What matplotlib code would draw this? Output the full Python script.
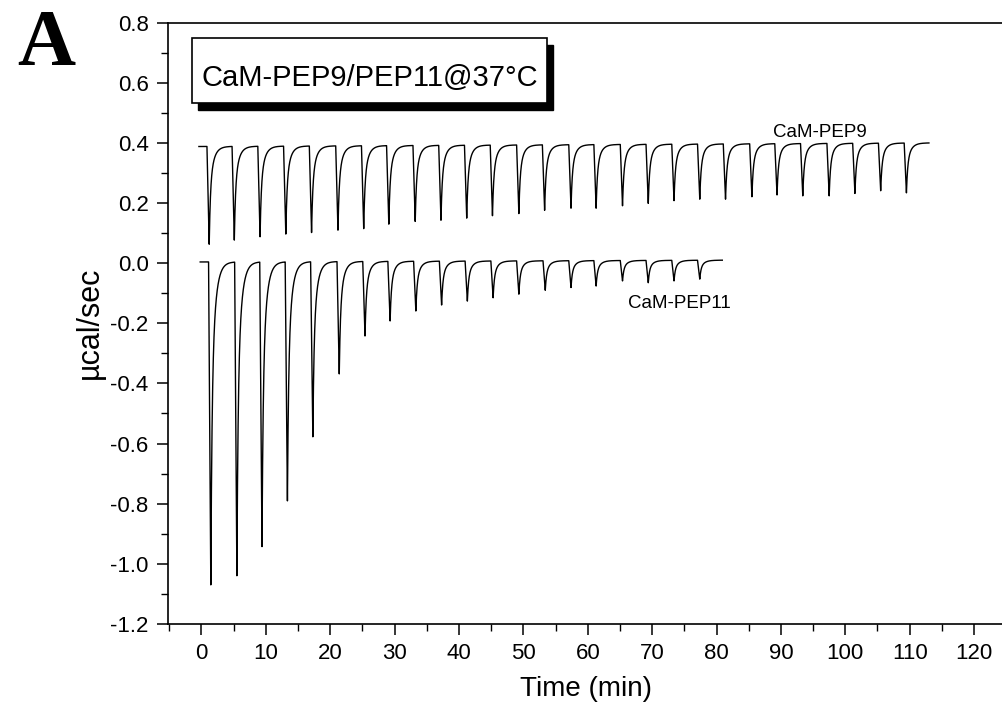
#- ITC raw heat traces, CaM-PEP9 and CaM-PEP11 at 37 C
import matplotlib
matplotlib.use('Agg')
import matplotlib.pyplot as plt
import numpy as np
from matplotlib.patches import Rectangle
from matplotlib.ticker import MultipleLocator

plt.rcParams['font.family'] = ['Liberation Sans', 'DejaVu Sans']

#- injection tip times (min) and tip values (ucal/sec)
pep9_t = [1.2, 5.1, 9.1, 13.1, 17.1, 21.2, 25.2, 29.1, 33.2, 37.2, 41.2, 45.2, 49.3, 53.3,
          57.4, 61.3, 65.4, 69.4, 73.4, 77.4, 81.4, 85.5, 89.4, 93.4, 97.5, 101.5, 105.5, 109.5]
pep9_min = [0.063, 0.077, 0.088, 0.097, 0.102, 0.110, 0.115, 0.130, 0.139, 0.143, 0.150, 0.158,
            0.165, 0.176, 0.183, 0.183, 0.191, 0.199, 0.208, 0.213, 0.213, 0.221, 0.227, 0.224,
            0.224, 0.232, 0.241, 0.234]
pep9_base = (0.388, 0.400)    # baseline at start / end
pep9_span = (-0.4, 113.0)

pep11_t = [1.45, 5.5, 9.4, 13.35, 17.3, 21.4, 25.4, 29.3, 33.3, 37.3, 41.3, 45.3, 49.3, 53.4,
           57.4, 61.3, 65.4, 69.4, 73.4, 77.4]
pep11_min = [-1.070, -1.039, -0.942, -0.790, -0.577, -0.368, -0.242, -0.192, -0.159, -0.139,
             -0.126, -0.115, -0.103, -0.090, -0.081, -0.076, -0.059, -0.065, -0.059, -0.053]
pep11_base = (0.004, 0.010)
pep11_span = (-0.2, 80.9)


def trace(tips, mins, base, span):
    # each injection: quick drop to the tip, then a two-rate recovery to baseline
    t = np.arange(span[0], span[1], 0.005)
    b = np.interp(t, [span[0], span[1]], base)
    y = b.copy()
    for tp, m in zip(tips, mins):
        d = np.interp(tp, [span[0], span[1]], base) - m
        s = t - tp
        rise = (s > -0.35) & (s <= 0)
        y[rise] -= d * (1 + s[rise] / 0.35)
        dec = s > 0
        y[dec] -= d * (0.55 * np.exp(-s[dec] / 0.18) + 0.45 * np.exp(-s[dec] / 0.6))
    return t, y


t9, y9 = trace(pep9_t, pep9_min, pep9_base, pep9_span)
t11, y11 = trace(pep11_t, pep11_min, pep11_base, pep11_span)

f = plt.figure(figsize=(10.03, 7.14), dpi=100)
ax = f.add_axes([0.1675, 0.1261, 0.8325, 0.8422])
ax.plot(t9, y9, color='k', lw=1.0)
ax.plot(t11, y11, color='k', lw=1.0)

ax.set_xlim(-5.2, 124.5)
ax.set_ylim(-1.2, 0.8)
ax.xaxis.set_major_locator(MultipleLocator(10))
ax.xaxis.set_minor_locator(MultipleLocator(5))
ax.yaxis.set_major_locator(MultipleLocator(0.2))
ax.yaxis.set_minor_locator(MultipleLocator(0.1))
ax.yaxis.set_major_formatter(plt.FuncFormatter(lambda v, p: '%.1f' % v))
ax.tick_params(which='major', length=8, width=1.1, labelsize=16, direction='out', pad=6)
ax.tick_params(which='minor', length=5, width=1.0, direction='out')
ax.spines['right'].set_visible(False)
for s in ['left', 'bottom', 'top']:
    ax.spines[s].set_linewidth(1.2)

ax.set_xlabel('Time (min)', fontsize=20, labelpad=8)
ax.set_ylabel('µcal/sec', fontsize=22, labelpad=4)

ax.text(96.1, 0.418, 'CaM-PEP9', fontsize=13.5, ha='center', va='baseline')
ax.text(74.2, -0.135, 'CaM-PEP11', fontsize=13.5, ha='center', va='center')

#- title box with drop shadow
f.add_artist(Rectangle((0.1971, 0.8459), 0.3539, 0.0910, transform=f.transFigure,
                       facecolor='k', edgecolor='k', zorder=3))
f.add_artist(Rectangle((0.1911, 0.8553), 0.3539, 0.0910, transform=f.transFigure,
                       facecolor='w', edgecolor='k', lw=1.2, zorder=4))
f.text(0.3688, 0.8903, 'CaM-PEP9/PEP11@37°C', fontsize=21, ha='center', va='center', zorder=5)

f.text(0.017, 0.909, 'A', fontsize=58, fontweight='bold', family='Liberation Serif',
       ha='left', va='baseline')

f.savefig('out.png', dpi=100)
plt.close(f)
